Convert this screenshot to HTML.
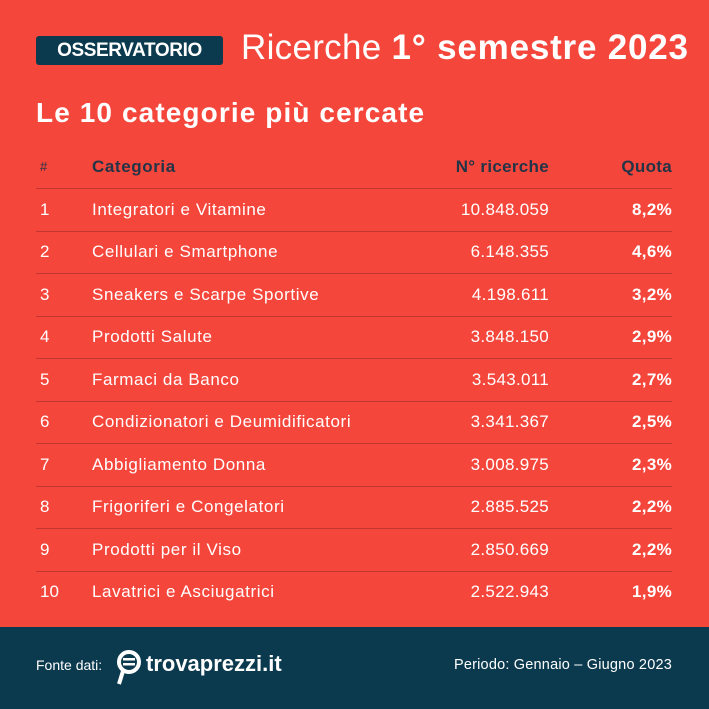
<!DOCTYPE html>
<html><head><meta charset="utf-8"><style>
*{margin:0;padding:0;box-sizing:border-box}
body{width:709px;height:709px;background:#f5463c;font-family:"Liberation Sans",sans-serif;position:relative;overflow:hidden;color:#fff}
.badge{position:absolute;left:36px;top:36px;width:187px;height:29px;background:#0b3a4e;border-radius:3px;color:#fff;font-weight:bold;font-size:19px;line-height:29px;text-align:center;letter-spacing:-0.4px}
.title{position:absolute;left:241px;top:28px;font-size:35px;white-space:nowrap;letter-spacing:0.3px}
.title b{font-weight:bold;letter-spacing:0.8px}
.sub{position:absolute;left:36px;top:97px;font-size:28px;font-weight:bold;letter-spacing:1.1px}
.row{position:absolute;left:36px;width:636px;height:42.5px;font-size:17px;line-height:42.5px}
.row span{position:absolute;top:0;white-space:nowrap}
.c1{left:4px}.c2{left:56px;letter-spacing:0.6px}.c3{right:123px;letter-spacing:0.3px}.c4{right:0;font-weight:bold;letter-spacing:0.3px}
.line{position:absolute;left:36px;width:636px;height:1px;background:#c0372f}
.hdr{color:#243447;font-weight:bold}
.hdr .c1{font-weight:normal;font-size:13px}
.foot{position:absolute;left:0;top:627px;width:709px;height:82px;background:#0b3a4e}
</style></head><body>
<div class="badge">OSSERVATORIO</div>
<div class="title">Ricerche <b>1° semestre 2023</b></div>
<div class="sub">Le 10 categorie più cercate</div>
<div class="row hdr" style="top:146px"><span class="c1">#</span><span class="c2">Categoria</span><span class="c3">N° ricerche</span><span class="c4">Quota</span></div>
<div class="line" style="top:188px"></div>
<div class="row" style="top:189px"><span class="c1">1</span><span class="c2">Integratori e Vitamine</span><span class="c3">10.848.059</span><span class="c4">8,2%</span></div>
<div class="line" style="top:231px"></div>
<div class="row" style="top:231px"><span class="c1">2</span><span class="c2">Cellulari e Smartphone</span><span class="c3">6.148.355</span><span class="c4">4,6%</span></div>
<div class="line" style="top:273px"></div>
<div class="row" style="top:274px"><span class="c1">3</span><span class="c2">Sneakers e Scarpe Sportive</span><span class="c3">4.198.611</span><span class="c4">3,2%</span></div>
<div class="line" style="top:316px"></div>
<div class="row" style="top:316px"><span class="c1">4</span><span class="c2">Prodotti Salute</span><span class="c3">3.848.150</span><span class="c4">2,9%</span></div>
<div class="line" style="top:358px"></div>
<div class="row" style="top:359px"><span class="c1">5</span><span class="c2">Farmaci da Banco</span><span class="c3">3.543.011</span><span class="c4">2,7%</span></div>
<div class="line" style="top:401px"></div>
<div class="row" style="top:401px"><span class="c1">6</span><span class="c2">Condizionatori e Deumidificatori</span><span class="c3">3.341.367</span><span class="c4">2,5%</span></div>
<div class="line" style="top:443px"></div>
<div class="row" style="top:444px"><span class="c1">7</span><span class="c2">Abbigliamento Donna</span><span class="c3">3.008.975</span><span class="c4">2,3%</span></div>
<div class="line" style="top:486px"></div>
<div class="row" style="top:486px"><span class="c1">8</span><span class="c2">Frigoriferi e Congelatori</span><span class="c3">2.885.525</span><span class="c4">2,2%</span></div>
<div class="line" style="top:528px"></div>
<div class="row" style="top:529px"><span class="c1">9</span><span class="c2">Prodotti per il Viso</span><span class="c3">2.850.669</span><span class="c4">2,2%</span></div>
<div class="line" style="top:571px"></div>
<div class="row" style="top:571px"><span class="c1">10</span><span class="c2">Lavatrici e Asciugatrici</span><span class="c3">2.522.943</span><span class="c4">1,9%</span></div>
<div class="foot">
<div style="position:absolute;left:36px;top:30px;font-size:14px">Fonte dati:</div>
<svg style="position:absolute;left:115px;top:21px" width="30" height="38" viewBox="0 0 30 38"><circle cx="14" cy="14" r="10" fill="none" stroke="#fff" stroke-width="4"/><rect x="8" y="10" width="12" height="2.5" fill="#fff"/><rect x="8" y="15" width="12" height="2.5" fill="#fff"/><path d="M8 23 L4 36" stroke="#fff" stroke-width="4"/></svg>
<div style="position:absolute;left:146px;top:24px;font-size:22px;font-weight:bold">trovaprezzi.it</div>
<div style="position:absolute;right:37px;top:30px;font-size:14.5px;letter-spacing:0.2px">Periodo: Gennaio – Giugno 2023</div>
</div>
</body></html>
